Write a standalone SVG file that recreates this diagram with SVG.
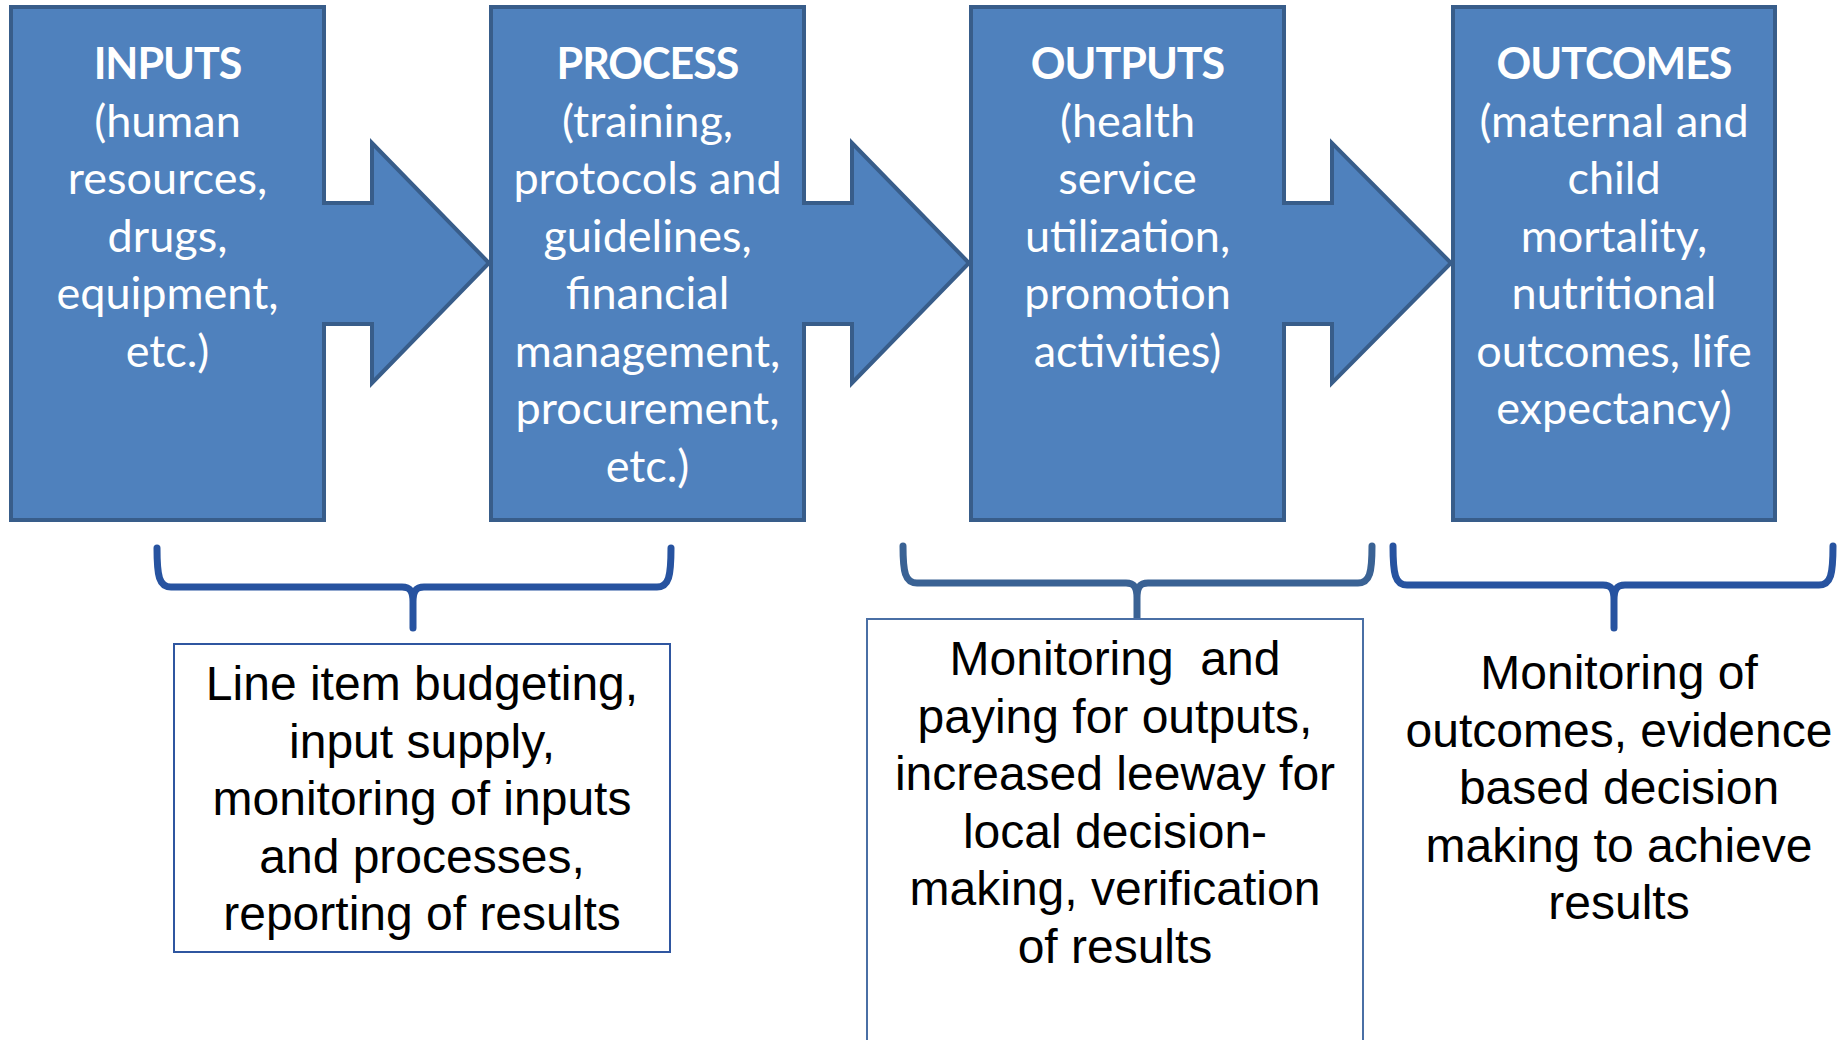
<svg xmlns="http://www.w3.org/2000/svg" width="1837" height="1040" viewBox="0 0 1837 1040">
<style>
.blk{fill:#4f81bd;stroke:#385d8a;stroke-width:4;stroke-linejoin:miter}
.wt{font-family:Lato,"Open Sans","Liberation Sans",sans-serif;font-size:45px;fill:#ffffff;text-anchor:middle}
.wt .hd{font-weight:bold;font-size:43px;letter-spacing:-1px}
.bt{font-family:"Liberation Sans",Arial,sans-serif;font-size:48px;fill:#000000;text-anchor:middle}
.brace{fill:none;stroke-width:7;stroke-linecap:round;stroke-linejoin:round}
.b1{stroke:#2753a0}
.b2{stroke:#3a6294}
.box{fill:#ffffff;stroke-width:2}
</style>
<rect width="1837" height="1040" fill="#ffffff"/>
<g id="inputs">
<path class="blk" d="M11,7 H324 V203 H372 V143 L489,263 L372,383 V324 H324 V520 H11 Z"/>
<text class="wt"><tspan class="hd" x="167.5" y="79">INPUTS</tspan><tspan x="167.5" y="136.5">(human</tspan><tspan x="167.5" y="194">resources,</tspan><tspan x="167.5" y="251.5">drugs,</tspan><tspan x="167.5" y="309">equipment,</tspan><tspan x="167.5" y="366.5">etc.)</tspan></text>
</g>
<g id="process">
<path class="blk" d="M491,7 H804 V203 H852 V143 L969,263 L852,383 V324 H804 V520 H491 Z"/>
<text class="wt"><tspan class="hd" x="647.5" y="79">PROCESS</tspan><tspan x="647.5" y="136.5">(training,</tspan><tspan x="647.5" y="194">protocols and</tspan><tspan x="647.5" y="251.5">guidelines,</tspan><tspan x="647.5" y="309">financial</tspan><tspan x="647.5" y="366.5">management,</tspan><tspan x="647.5" y="424">procurement,</tspan><tspan x="647.5" y="481.5">etc.)</tspan></text>
</g>
<g id="outputs">
<path class="blk" d="M971,7 H1284 V203 H1332 V143 L1451,263 L1332,383 V324 H1284 V520 H971 Z"/>
<text class="wt"><tspan class="hd" x="1127.5" y="79">OUTPUTS</tspan><tspan x="1127.5" y="136.5">(health</tspan><tspan x="1127.5" y="194">service</tspan><tspan x="1127.5" y="251.5">utilization,</tspan><tspan x="1127.5" y="309">promotion</tspan><tspan x="1127.5" y="366.5">activities)</tspan></text>
</g>
<g id="outcomes">
<rect class="blk" x="1453" y="7" width="322" height="513"/>
<text class="wt"><tspan class="hd" x="1614" y="79">OUTCOMES</tspan><tspan x="1614" y="136.5">(maternal and</tspan><tspan x="1614" y="194">child</tspan><tspan x="1614" y="251.5">mortality,</tspan><tspan x="1614" y="309">nutritional</tspan><tspan x="1614" y="366.5">outcomes, life</tspan><tspan x="1614" y="424">expectancy)</tspan></text>
</g>
<g id="connectors">
<path class="brace b1" d="M157,548 C157,576 159,587 171,587 L402,587 C410,587 413,591 413,602 L413,628 M671,548 C671,576 669,587 657,587 L424,587 C416,587 413,591 413,602"/>
<path class="brace b2" d="M903,546 C903,572 905,583 917,583 L1126,583 C1134,583 1137,587 1137,598 L1137,623 M1372,546 C1372,572 1370,583 1358,583 L1148,583 C1140,583 1137,587 1137,598"/>
<path class="brace b1" d="M1393,546 C1393,574 1395,585 1407,585 L1603,585 C1611,585 1614,589 1614,600 L1614,628 M1833,546 C1833,574 1831,585 1819,585 L1625,585 C1617,585 1614,589 1614,600"/>
</g>
<g id="note1">
<rect class="box" x="174" y="644" width="496" height="308" stroke="#2f56a0"/>
<text class="bt"><tspan x="422" y="700">Line item budgeting,</tspan><tspan x="422" y="757.5">input supply,</tspan><tspan x="422" y="815">monitoring of inputs</tspan><tspan x="422" y="872.5">and processes,</tspan><tspan x="422" y="930">reporting of results</tspan></text>
</g>
<g id="note2">
<rect class="box" x="867" y="619" width="496" height="440" stroke="#4a6fa5"/>
<text class="bt"><tspan x="1115" y="675" xml:space="preserve">Monitoring  and</tspan><tspan x="1115" y="732.5">paying for outputs,</tspan><tspan x="1115" y="790">increased leeway for</tspan><tspan x="1115" y="847.5">local decision-</tspan><tspan x="1115" y="905">making, verification</tspan><tspan x="1115" y="962.5">of results</tspan></text>
</g>
<g id="note3">
<text class="bt"><tspan x="1619" y="689">Monitoring of</tspan><tspan x="1619" y="746.5">outcomes, evidence</tspan><tspan x="1619" y="804">based decision</tspan><tspan x="1619" y="861.5">making to achieve</tspan><tspan x="1619" y="919">results</tspan></text>
</g>
</svg>
